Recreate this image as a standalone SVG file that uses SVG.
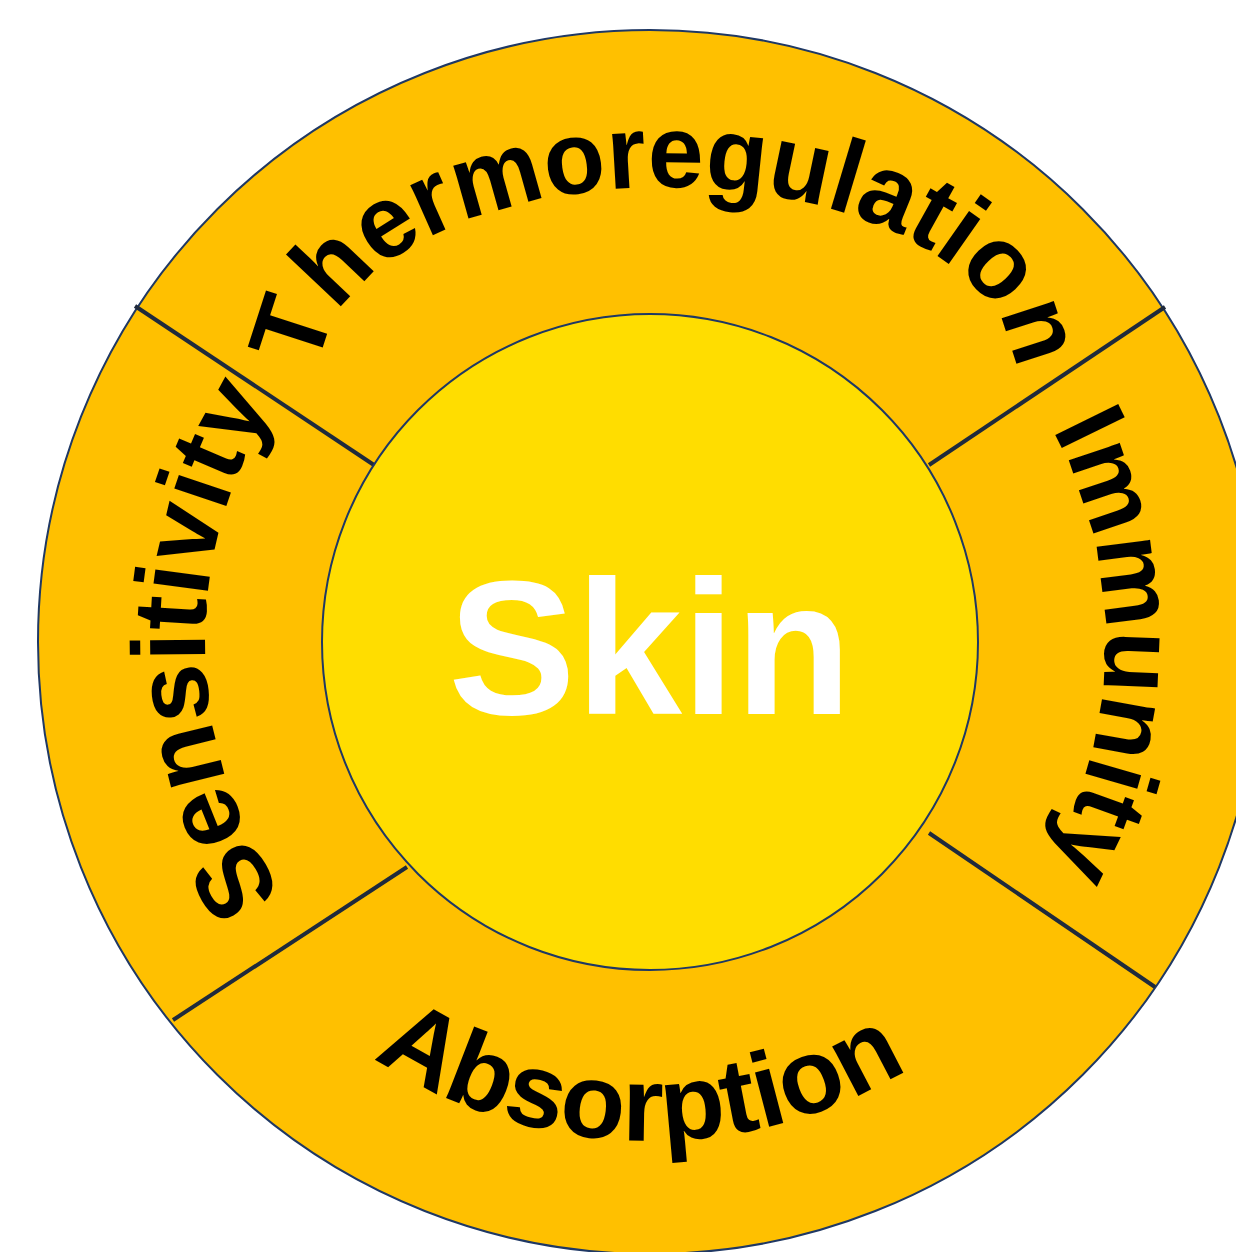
<svg xmlns="http://www.w3.org/2000/svg" xmlns:xlink="http://www.w3.org/1999/xlink" width="1236" height="1252" viewBox="0 0 1236 1252">
  <style>
    .ring { fill: #FFC000; stroke: #1F3864; stroke-width: 2; }
    .core { fill: #FFDD00; stroke: #1F3864; stroke-width: 2; }
    .divider { stroke: #1F2A3C; stroke-width: 4; fill: none; }
    .label { font-family: "Liberation Sans", Arial, sans-serif; font-weight: bold; fill: #000000; }
    .center { font-family: "Liberation Sans", Arial, sans-serif; font-weight: bold; fill: #FFFFFF; }
  </style>
  <defs>
    <path id="arcTop" d="M 320,372 A 347 185 0 0 1 1014,372"/>
    <path id="arcLeft" d="M 650,1087 A 445 445 0 0 1 650,197"/>
    <path id="arcRight" d="M 650,187 A 455 455 0 0 1 650,1097"/>
    <path id="arcBottom" d="M 151,642 A 499 499 0 0 0 1149,642"/>
  </defs>
  <rect width="1236" height="1252" fill="#FFFFFF"/>
  <g id="outer-ring">
    <circle class="ring" cx="650" cy="642" r="612"/>
  </g>
  <g id="connectors">
    <line class="divider" x1="135" y1="306" x2="374" y2="465"/>
    <line class="divider" x1="1165" y1="307" x2="929" y2="465"/>
    <line class="divider" x1="173" y1="1020" x2="407" y2="867"/>
    <line class="divider" x1="1155" y1="987" x2="929" y2="833"/>
  </g>
  <g id="skin">
    <circle class="core" cx="650" cy="642" r="328"/>
    <text class="center" x="650" y="714" font-size="191" text-anchor="middle">Skin</text>
  </g>
  <g id="thermoregulation">
    <text class="label" font-size="104" textLength="852" lengthAdjust="spacingAndGlyphs"><textPath xlink:href="#arcTop" href="#arcTop" startOffset="50%" text-anchor="middle" textLength="852" lengthAdjust="spacingAndGlyphs">Thermoregulation</textPath></text>
  </g>
  <g id="sensitivity">
    <text class="label" font-size="104"><textPath xlink:href="#arcLeft" href="#arcLeft" startOffset="691" text-anchor="middle">Sensitivity</textPath></text>
  </g>
  <g id="immunity">
    <text class="label" font-size="102"><textPath xlink:href="#arcRight" href="#arcRight" startOffset="719.5" text-anchor="middle">Immunity</textPath></text>
  </g>
  <g id="absorption">
    <text class="label" font-size="106"><textPath xlink:href="#arcBottom" href="#arcBottom" startOffset="773" text-anchor="middle">Absorption</textPath></text>
  </g>
</svg>
